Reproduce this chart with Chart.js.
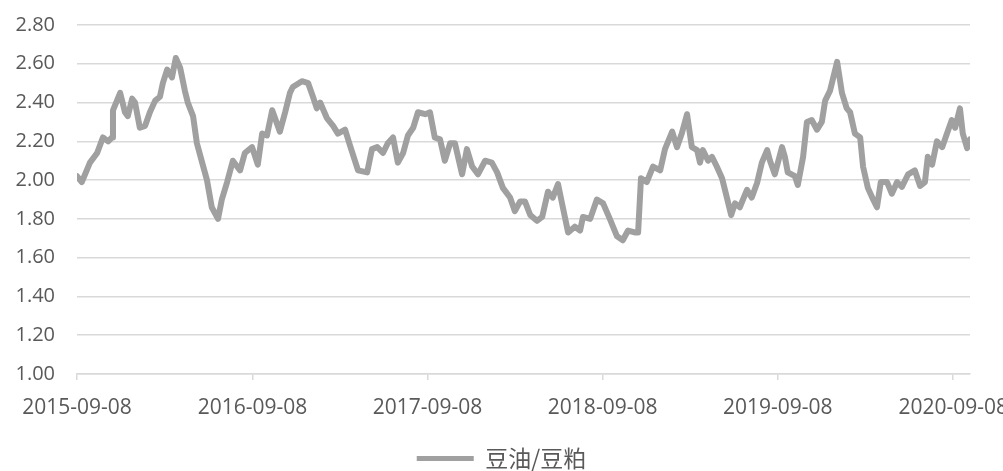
<!DOCTYPE html>
<html>
<head>
<meta charset="utf-8">
<script src="https://cdn.jsdelivr.net/npm/chart.js@4.4.0/dist/chart.umd.min.js"></script>
<style>
  html, body { margin: 0; padding: 0; background: #ffffff; }
  #wrap { width: 1003px; height: 471px; position: relative; }
</style>
</head>
<body>
<div id="wrap"><canvas id="chart"></canvas></div>
<script>
// 豆油/豆粕 price ratio, sampled observations
const seriesName = '豆油/豆粕';

const dates = [
  '2015-09-08','2015-09-18','2015-10-05','2015-10-20','2015-11-01','2015-11-12','2015-11-20','2015-11-22','2015-12-07','2015-12-17','2015-12-23',
  '2016-01-01','2016-01-07','2016-01-17','2016-01-28','2016-02-07','2016-02-18','2016-02-28','2016-03-05','2016-03-14','2016-03-24',
  '2016-04-01','2016-04-10','2016-04-20','2016-04-26','2016-05-07','2016-05-15','2016-05-26','2016-06-05','2016-06-15','2016-06-28',
  '2016-07-06','2016-07-17','2016-07-29','2016-08-13','2016-08-23','2016-09-07','2016-09-19','2016-09-28','2016-10-08','2016-10-19',
  '2016-11-04','2016-11-15','2016-11-25','2016-12-01','2016-12-20',
  '2017-01-02','2017-01-12','2017-01-20','2017-01-27','2017-02-10','2017-02-23','2017-03-05','2017-03-20','2017-03-30','2017-04-16',
  '2017-05-05','2017-05-15','2017-05-26','2017-06-07','2017-06-17','2017-06-28','2017-07-08','2017-07-19','2017-07-29','2017-08-09',
  '2017-08-19','2017-09-03','2017-09-13','2017-09-23','2017-10-04','2017-10-14','2017-10-25','2017-11-04','2017-11-19','2017-11-29',
  '2017-12-10','2017-12-22',
  '2018-01-06','2018-01-20','2018-01-31','2018-02-12','2018-02-27','2018-03-09','2018-03-20','2018-03-30','2018-04-10','2018-04-24',
  '2018-05-05','2018-05-17','2018-05-27','2018-06-07','2018-06-17','2018-06-28','2018-07-12','2018-07-23','2018-07-29','2018-08-13',
  '2018-08-27','2018-09-09','2018-09-23','2018-10-08','2018-10-20','2018-10-31','2018-11-14','2018-11-21','2018-11-27','2018-12-09',
  '2018-12-22',
  '2019-01-06','2019-01-16','2019-01-31','2019-02-10','2019-02-20','2019-03-03','2019-03-13','2019-03-24','2019-03-30','2019-04-05',
  '2019-04-16','2019-04-24','2019-05-04','2019-05-15','2019-05-25','2019-06-03','2019-06-11','2019-06-21','2019-07-06','2019-07-16',
  '2019-07-27','2019-08-06','2019-08-17','2019-08-23','2019-09-02','2019-09-17','2019-09-23','2019-09-29','2019-10-14','2019-10-20',
  '2019-10-31','2019-11-08','2019-11-18','2019-11-29','2019-12-09','2019-12-16','2019-12-26',
  '2020-01-10','2020-01-20','2020-01-30','2020-02-06','2020-02-16','2020-02-27','2020-03-04','2020-03-14','2020-03-25','2020-04-02',
  '2020-04-10','2020-04-23','2020-05-03','2020-05-14','2020-05-24','2020-06-06','2020-06-20','2020-07-01','2020-07-11','2020-07-17',
  '2020-07-26','2020-08-05','2020-08-16','2020-08-26','2020-09-05','2020-09-12','2020-09-22','2020-09-28','2020-10-07','2020-10-13'
];

const ratio = [
  2.02, 1.99, 2.09, 2.14, 2.22, 2.20, 2.22, 2.36, 2.45, 2.35, 2.33,
  2.42, 2.40, 2.27, 2.28, 2.35, 2.41, 2.43, 2.50, 2.57, 2.53,
  2.63, 2.58, 2.46, 2.40, 2.33, 2.19, 2.09, 2.00, 1.86, 1.80,
  1.90, 1.99, 2.10, 2.05, 2.14, 2.17, 2.08, 2.24, 2.23, 2.36,
  2.25, 2.35, 2.45, 2.48, 2.51,
  2.50, 2.43, 2.37, 2.40, 2.32, 2.28, 2.24, 2.26, 2.18, 2.05,
  2.04, 2.16, 2.17, 2.14, 2.19, 2.22, 2.09, 2.14, 2.23, 2.27,
  2.35, 2.34, 2.35, 2.22, 2.21, 2.10, 2.19, 2.19, 2.03, 2.16,
  2.07, 2.03,
  2.10, 2.09, 2.04, 1.96, 1.91, 1.84, 1.89, 1.89, 1.82, 1.79,
  1.81, 1.94, 1.91, 1.98, 1.86, 1.73, 1.76, 1.74, 1.81, 1.80,
  1.90, 1.88, 1.80, 1.71, 1.69, 1.74, 1.73, 1.73, 2.01, 1.99,
  2.07,
  2.05, 2.16, 2.25, 2.17, 2.24, 2.34, 2.17, 2.155, 2.09, 2.155,
  2.10, 2.12, 2.07, 2.01, 1.91, 1.82, 1.88, 1.86, 1.95, 1.91,
  1.985, 2.09, 2.155, 2.10, 2.03, 2.17, 2.12, 2.04, 2.02, 1.975,
  2.12, 2.30, 2.31, 2.26, 2.30, 2.41, 2.46,
  2.61, 2.45, 2.37, 2.35, 2.24, 2.22, 2.07, 1.96, 1.90, 1.86,
  1.99, 1.99, 1.93, 1.99, 1.965, 2.03, 2.05, 1.97, 1.99, 2.12,
  2.08, 2.20, 2.17, 2.24, 2.31, 2.27, 2.37, 2.24, 2.165, 2.21
];

// Axis labels
const tickDates = ['2015-09-08','2016-09-08','2017-09-08','2018-09-08','2019-09-08','2020-09-08'];
const yMin = 1.0, yMax = 2.8, yStep = 0.2;

const DAY_MS = 86400000;
const t0 = Date.parse(dates[0]);
const dayOf = d => Math.round((Date.parse(d) - t0) / DAY_MS);
const points = dates.map((d, i) => ({ x: dayOf(d), y: ratio[i] }));
const tickDays = tickDates.map(dayOf);

const lineColor = '#a0a0a0';
const gridColor = '#d9d9d9';
const textColor = '#595959';
const latinFont = "'Open Sans', 'Liberation Sans', sans-serif";
const cjkFont = "'Noto Sans CJK SC', 'Noto Sans', sans-serif";

new Chart(document.getElementById('chart'), {
  type: 'line',
  data: {
    datasets: [{
      label: seriesName,
      data: points,
      borderColor: lineColor,
      backgroundColor: lineColor,
      borderWidth: 6,
      borderJoinStyle: 'round',
      borderCapStyle: 'round',
      pointRadius: 0,
      tension: 0,
      fill: false
    }]
  },
  options: {
    responsive: true,
    maintainAspectRatio: false,
    animation: false,
    devicePixelRatio: 1,
    layout: { padding: { left: 0, top: 25, right: 0, bottom: -9 } },
    plugins: {
      tooltip: { enabled: false },
      legend: {
        position: 'bottom',
        labels: {
          boxWidth: 57,
          boxHeight: 5,
          padding: 2,
          color: textColor,
          font: { family: cjkFont, size: 23 },
          generateLabels: chart =>
            Chart.defaults.plugins.legend.labels.generateLabels(chart)
              .map(item => Object.assign(item, { lineWidth: 0 }))
        }
      }
    },
    scales: {
      x: {
        type: 'linear',
        min: 0,
        max: dayOf(dates[dates.length - 1]),
        afterBuildTicks: scale => { scale.ticks = tickDays.map(v => ({ value: v })); },
        afterFit: scale => {
          scale.paddingLeft = 0;
          scale.paddingRight = 33;
          scale.height = 71;
        },
        ticks: {
          autoSkip: false,
          maxRotation: 0,
          padding: 15,
          color: textColor,
          font: { family: latinFont, size: 21 },
          callback: (value, index) => tickDates[index]
        },
        grid: { drawOnChartArea: false, tickLength: 6, color: gridColor, lineWidth: 1.5 },
        border: { display: true, color: gridColor, width: 1.5 }
      },
      y: {
        min: yMin,
        max: yMax,
        afterFit: scale => {
          scale.width = 77;
          scale.paddingTop = 0;
          scale.paddingBottom = 0;
        },
        ticks: {
          stepSize: yStep,
          padding: 22,
          color: textColor,
          font: { family: latinFont, size: 20 },
          callback: value => Number(value).toFixed(2)
        },
        grid: { drawTicks: false, color: gridColor, lineWidth: 1.5 },
        border: { display: false }
      }
    }
  }
});
</script>
</body>
</html>
